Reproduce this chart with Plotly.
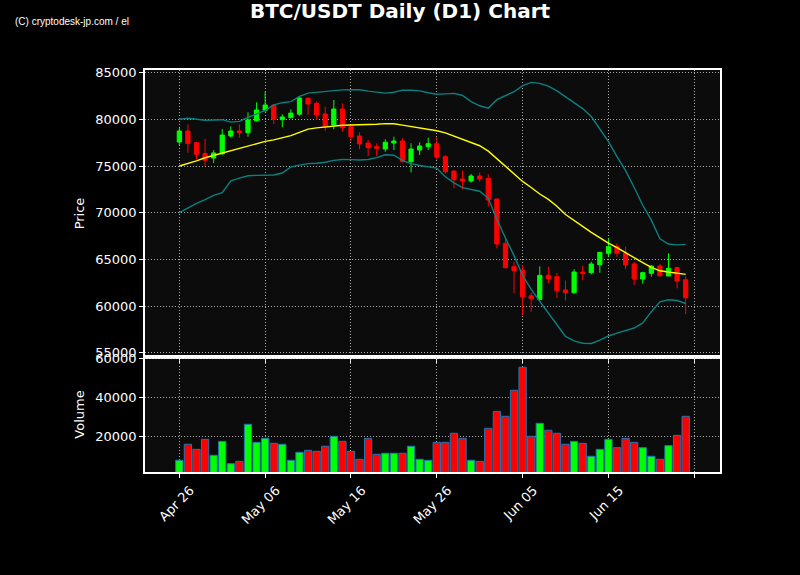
import pandas as pd
import plotly.graph_objects as go
from plotly.subplots import make_subplots

dates = pd.date_range('2024-04-26', periods=60, freq='D')

opens = [77570, 78750, 77500, 76340, 75850, 76300, 78210, 78750, 78570, 79850,
         80970, 81530, 79960, 80170, 80550, 82250, 81710, 80570, 79390, 81100,
         79210, 78210, 77460, 77070, 76820, 77460, 77680, 75460, 76710, 77070,
         77390, 76000, 74460, 73610, 73390, 73930, 73680, 71470, 66720, 64220,
         63860, 61100, 60710, 63290, 63150, 61720, 61430, 63650, 63580, 64430,
         65650, 66360, 65650, 64510, 62900, 63510, 64290, 63220, 64110, 62820]
highs = [79100, 79460, 77600, 77900, 76700, 78970, 79250, 79460, 80750, 81820,
         82950, 81600, 80530, 81070, 82500, 82350, 81890, 81350, 82070, 81710,
         79300, 78600, 77780, 77430, 77860, 78140, 77970, 77430, 77540, 78040,
         78110, 76150, 74520, 74500, 74140, 74290, 74110, 71520, 67430, 64750,
         64390, 61430, 64250, 64220, 63550, 62750, 63940, 64330, 64750, 65760,
         67260, 66720, 66360, 64750, 63690, 64390, 64500, 65650, 64220, 63190]
lows = [77250, 76420, 75700, 74990, 75300, 76200, 78030, 78030, 78140, 79740,
        80750, 79500, 79140, 80100, 80380, 80460, 79930, 78780, 78930, 78670,
        77600, 76790, 76070, 76070, 76530, 76710, 75390, 74320, 76180, 76710,
        75670, 74220, 72610, 72500, 73210, 73320, 70650, 66190, 64040, 61370,
        59040, 59400, 60670, 62430, 60860, 60610, 61370, 62760, 63400, 63580,
        65290, 65290, 63940, 62260, 62400, 63150, 63150, 63220, 61900, 59120]
closes = [78750, 77400, 76260, 75620, 76400, 78320, 78750, 78570, 79930, 81000,
          81530, 80000, 80250, 80670, 82280, 81640, 80460, 79210, 81100, 79100,
          78140, 77360, 76960, 76890, 77540, 77680, 75460, 76820, 77140, 77390,
          75970, 74390, 73530, 73390, 73930, 73610, 71360, 66650, 64110, 63790,
          61010, 60790, 63290, 62930, 61650, 61430, 63650, 63500, 64510, 65760,
          66360, 65650, 64400, 62900, 63580, 64290, 63250, 64040, 62680, 60900]
volumes = [7700, 15900, 13300, 18450, 10250, 17400, 5950, 7150, 26150, 16900,
           18950, 16400, 15900, 7700, 11800, 12800, 12300, 14900, 20000, 17400,
           12300, 8200, 18950, 10750, 11300, 11300, 11300, 14900, 8200, 7700,
           16900, 16900, 21550, 18950, 7700, 7150, 24100, 32800, 30250, 43600,
           55400, 20000, 26650, 23100, 21550, 15900, 17400, 16400, 9750, 13300,
           18450, 14150, 18950, 16900, 14150, 9750, 8200, 15200, 20500, 30250]

# 20-day moving average and bollinger bands
ma20 = [75000, 75250, 75550, 75880, 76140, 76400, 76650, 76870, 77100, 77360,
        77640, 77800, 77990, 78250, 78600, 78950, 79080, 79200, 79330, 79370,
        79390, 79400, 79430, 79470, 79540, 79520, 79380, 79230, 79100, 78940,
        78770, 78550, 78200, 77920, 77560, 77170, 76590, 75800, 75000, 74200,
        73350, 72700, 72000, 71420, 70700, 69800, 69130, 68540, 67900, 67300,
        66750, 66250, 65700, 65150, 64650, 64150, 63780, 63650, 63540, 63400]
upper = [80000, 80120, 80000, 79900, 79920, 79960, 79700, 79780, 80200, 80600,
         80950, 81550, 81780, 81900, 82450, 82800, 82880, 82950, 83100, 83150,
         83160, 83170, 83020, 82900, 82800, 82900, 83120, 83110, 83050, 82850,
         82680, 82720, 82780, 82550, 81900, 81450, 81200, 82100, 82550, 82950,
         83600, 83950, 83850, 83550, 83050, 82400, 81750, 81150, 80300, 79000,
         77600, 76000, 74500, 72700, 70800, 69200, 67200, 66650, 66550, 66610]
lower = [70000, 70500, 71000, 71400, 71850, 72150, 73400, 73700, 73950, 74000,
         74030, 74040, 74250, 74900, 75100, 75250, 75300, 75400, 75600, 75700,
         75680, 75640, 75700, 75900, 76200, 76150, 75600, 75250, 75050, 74950,
         74780, 73850, 73200, 72680, 72500, 72300, 71540, 69300, 67300, 65400,
         63300, 61800, 60500, 59300, 58000, 56750, 56270, 56020, 56000, 56350,
         56800, 57100, 57350, 57650, 58200, 59400, 60450, 60680, 60600, 60280]

tick_dates = ['2024-04-26', '2024-05-06', '2024-05-16', '2024-05-26',
              '2024-06-05', '2024-06-15', '2024-06-25']
tick_text = ['Apr 26', 'May 06', 'May 16', 'May 26', 'Jun 05', 'Jun 15', '']

up_color = '#00ff00'
down_color = '#ff0000'
vol_colors = [up_color if c >= o else down_color for o, c in zip(opens, closes)]

fig = make_subplots(rows=2, cols=1, shared_xaxes=True, vertical_spacing=0)

fig.add_trace(go.Scatter(x=dates, y=upper, mode='lines',
                         line=dict(color='#0a8080', width=1.4)), row=1, col=1)
fig.add_trace(go.Scatter(x=dates, y=lower, mode='lines',
                         line=dict(color='#0a8080', width=1.4)), row=1, col=1)
fig.add_trace(go.Scatter(x=dates, y=ma20, mode='lines',
                         line=dict(color='#ffff00', width=1.4)), row=1, col=1)
fig.add_trace(go.Candlestick(
    x=dates, open=opens, high=highs, low=lows, close=closes,
    increasing=dict(line=dict(color=up_color, width=1), fillcolor=up_color),
    decreasing=dict(line=dict(color=down_color, width=1), fillcolor=down_color),
), row=1, col=1)

fig.add_trace(go.Bar(x=dates, y=volumes, marker=dict(color=vol_colors,
                     line=dict(color='#1f77b4', width=1))), row=2, col=1)

axis_style = dict(
    showline=True, linecolor='white', linewidth=1.5, mirror=True,
    ticks='outside', tickcolor='white', ticklen=4,
    showgrid=True, gridcolor='rgba(200,200,200,0.85)', griddash='1px,2px', gridwidth=1,
    zeroline=False, tickfont=dict(color='white', size=13, family='DejaVu Sans'),
)
title_font = dict(color='white', size=13, family='DejaVu Sans')

fig.update_xaxes(**axis_style)
fig.update_yaxes(**axis_style)

fig.update_xaxes(range=['2024-04-22', '2024-06-28'], tickvals=tick_dates,
                 ticktext=tick_text, rangeslider_visible=False)
fig.update_xaxes(showticklabels=False, row=1, col=1)
fig.update_xaxes(tickangle=-45, ticklabelshift=11, row=2, col=1)

fig.update_yaxes(range=[54550, 85280], tickvals=list(range(55000, 85001, 5000)),
                 tickformat='d',
                 title=dict(text='Price', font=title_font, standoff=8),
                 domain=[0.2861, 1], row=1, col=1)
fig.update_yaxes(range=[1690, 60670], tickvals=[20000, 40000, 60000],
                 tickformat='d',
                 title=dict(text='Volume', font=title_font, standoff=8),
                 domain=[0, 0.2861], row=2, col=1)

fig.update_layout(
    width=800, height=575,
    margin=dict(l=145, r=80, t=70, b=103),
    paper_bgcolor='black', plot_bgcolor='#0c0c0c',
    showlegend=False, bargap=0.15,
    title=dict(text='<b>BTC/USDT Daily (D1) Chart</b>', x=0.5, xanchor='center',
               y=0.981, yanchor='middle',
               font=dict(color='white', size=20, family='DejaVu Sans')),
    annotations=[dict(text='(C) cryptodesk-jp.com / el', xref='paper', yref='paper',
                      x=-132 / 575, y=1 + 49 / 402, xanchor='left', yanchor='middle',
                      showarrow=False,
                      font=dict(color='white', size=10, family='Liberation Sans'))],
)

fig.write_html('out.html', config={'displayModeBar': False},
               post_script="document.body.style.margin='0';")
